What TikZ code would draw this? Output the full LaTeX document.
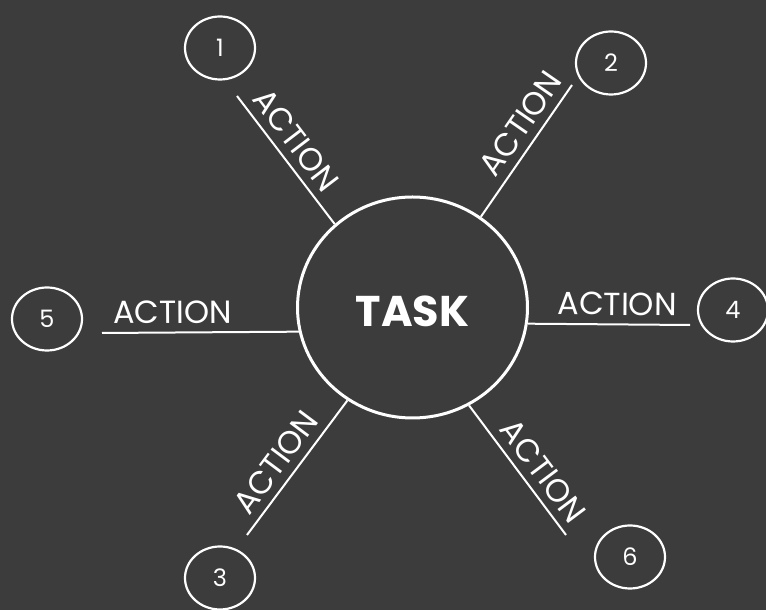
\documentclass[tikz,border=0pt]{standalone}
\usepackage{fontspec}
\setmainfont{Poppins}
\usepackage{tikz}
\usetikzlibrary{shapes,calc,positioning}
\definecolor{board}{RGB}{60,60,60}

\begin{document}
\begin{tikzpicture}[x=1pt,y=1pt]
	\tikzstyle{tasknode}=[draw=white,ellipse,line width=3pt,minimum width=230pt,minimum height=221pt,inner sep=0pt,text=white,font=\bfseries\fontsize{43}{46}\selectfont]
	\tikzstyle{numnode}=[draw=white,ellipse,line width=2.2pt,minimum width=70pt,minimum height=63pt,inner sep=0pt,text=white,font=\fontsize{24}{26}\selectfont]
	\tikzstyle{l}=[draw=white,line width=2pt]
	\tikzstyle{act}=[text=white,font=\fontsize{32}{34}\selectfont,sloped,above=8pt,inner sep=0pt]

	%% Board
	\fill[board] (0,0) rectangle (766,610);
	\useasboundingbox (0,0) rectangle (766,610);

	%% Task and numbers
	\node[tasknode] (task) at (412.5,302.5) {\raisebox{-4pt}[\height][0pt]{TASK}};
	\node[numnode] (1) at (220,562) {1};
	\node[numnode] (2) at (611,547) {2};
	\node[numnode] (3) at (220,32) {3};
	\node[numnode] (4) at (733,300) {4};
	\node[numnode] (5) at (47,291) {5};
	\node[numnode] (6) at (630,53) {6};

	%% Free ends of the action lines
	\coordinate (e1) at (237,514);
	\coordinate (e2) at (572,525);
	\coordinate (e3) at (247,75);
	\coordinate (e4) at (690,285);
	\coordinate (e5) at (102,277);
	\coordinate (e6) at (566,75);

	%% Actions
	\path[l] (task.133) -- node[act,pos=0.56] {ACTION} (e1);
	\path[l] (task.53) -- node[act,pos=0.62] {ACTION} (e2);
	\path[l] (task.235.6) -- node[act,pos=0.55] {ACTION} (e3);
	\path[l] (task.352) -- node[act,pos=0.55] {ACTION} (e4);
	\path[l] (task.192) -- node[act,pos=0.64] {ACTION} (e5);
	\path[l] (task.300) -- node[act,pos=0.6] {ACTION} (e6);
\end{tikzpicture}
\end{document}
